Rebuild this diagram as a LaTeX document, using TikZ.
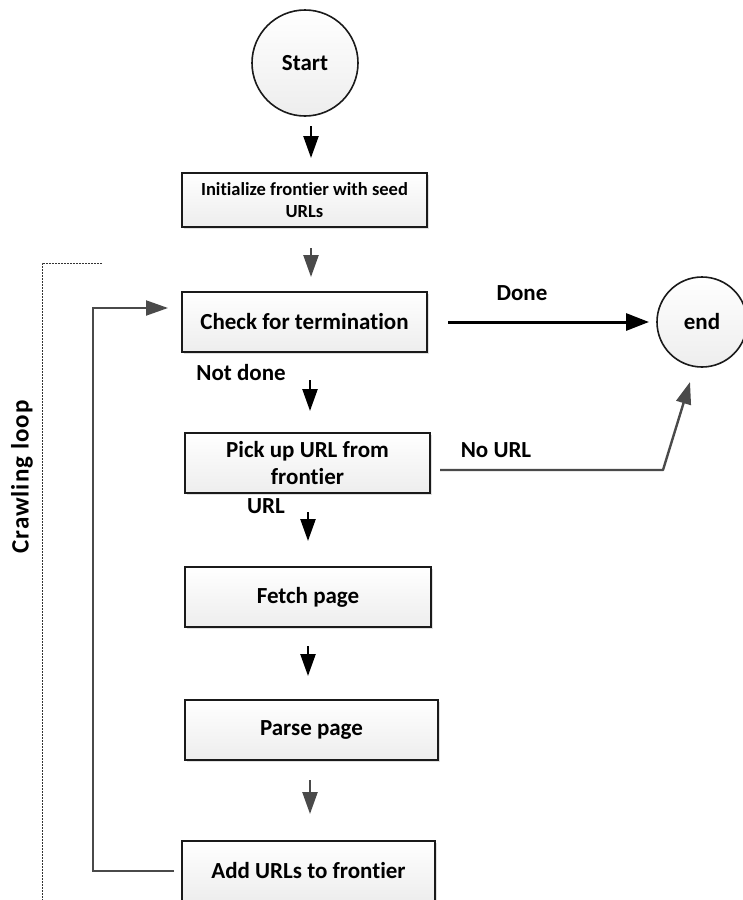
\documentclass[tikz,border=0pt]{standalone}
\usepackage{fontspec}
\setmainfont{Carlito}[Ligatures=NoCommon]
\usetikzlibrary{arrows.meta,shadows,shapes.geometric}
\definecolor{boxline}{HTML}{1A1A1A}
\definecolor{grayarrow}{HTML}{4A4A4A}
\begin{document}
\begin{tikzpicture}[x=1pt,y=-1pt,
  bigfont/.style={font=\bfseries\fontsize{23}{27.5}\selectfont},
  smallfont/.style={font=\bfseries\fontsize{18.5}{22.5}\selectfont},
  procbox/.style={draw=boxline,line width=1.8pt,rectangle,top color=white,bottom color=gray!14,
    drop shadow={shadow xshift=2pt,shadow yshift=-2pt,fill=gray!40,opacity=0.6},
    align=center,inner sep=0pt,bigfont},
  termcircle/.style={draw=boxline,line width=1.6pt,circle,top color=white,bottom color=gray!14,
    inner sep=0pt,bigfont},
  blackarrow/.style={line width=2.4pt,draw=black,-{Triangle[length=22pt,width=15pt]}},
  grayarrowst/.style={line width=2.4pt,draw=grayarrow,-{Triangle[length=22pt,width=15pt]}},
  lbl/.style={bigfont,inner sep=0pt}]
\useasboundingbox (0,0) rectangle (743,900);
\clip (0,0) rectangle (743,900);

% nodes
\node[termcircle,minimum size=106pt] (start) at (305,63) {Start};
\node[procbox,smallfont,minimum width=245pt,minimum height=54pt] (init) at (304.5,200) {Initialize frontier with seed\\URLs};
\node[procbox,minimum width=245pt,minimum height=60pt] (check) at (304.5,322) {Check for termination};
\node[procbox,minimum width=245pt,minimum height=60pt] (pick) at (307.5,463) {Pick up URL from\\frontier};
\node[procbox,minimum width=246pt,minimum height=60pt] (fetch) at (308,597) {Fetch page};
\node[procbox,minimum width=253pt,minimum height=60pt] (parse) at (311.5,730) {Parse page};
\node[procbox,minimum width=253pt,minimum height=60pt] (add) at (308.5,871) {Add URLs to frontier};
\node[termcircle,minimum size=90pt] (end) at (702,322) {end};

% labels
\node[lbl] (ldone) at (522,293) {Done};
\node[lbl] (lnotdone) at (241,373) {Not done};
\node[lbl] (lnourl) at (496,450) {No URL};
\node[lbl] (lurl) at (266,506) {URL};
\node[lbl,rotate=90,font=\bfseries\fontsize{25}{30}\selectfont] (lloop) at (22,477) {\addfontfeatures{LetterSpace=4}Crawling loop};

% arrow coordinates
\coordinate (a1s) at (311,126); \coordinate (a1e) at (311,158);
\coordinate (a2s) at (311,248); \coordinate (a2e) at (311,277);
\coordinate (a3s) at (310,380); \coordinate (a3e) at (310,411);
\coordinate (a4s) at (308,512); \coordinate (a4e) at (308,541);
\coordinate (a5s) at (308,646); \coordinate (a5e) at (308,676);
\coordinate (a6s) at (310,780); \coordinate (a6e) at (310,814);
\coordinate (dones) at (448,322); \coordinate (donee) at (649,322);
\coordinate (nus) at (440,470); \coordinate (nuk) at (663,470); \coordinate (nue) at (690,382);
\coordinate (lp1) at (93,871); \coordinate (lp2) at (93,308); \coordinate (lpe) at (168,308);
\coordinate (dt1) at (102,263); \coordinate (dt2) at (42,263); \coordinate (dt3) at (42,905);

\draw[blackarrow] (a1s) -- (a1e);
\draw[grayarrowst] (a2s) -- (a2e);
\draw[blackarrow] (a3s) -- (a3e);
\draw[blackarrow] (a4s) -- (a4e);
\draw[blackarrow] (a5s) -- (a5e);
\draw[grayarrowst] (a6s) -- (a6e);
\draw[blackarrow,line width=3pt,-{Triangle[length=23pt,width=17pt]}] (dones) -- (donee);
\draw[grayarrowst,line join=round] (nus) -- (nuk) -- (nue);
\draw[grayarrowst,line width=2pt] ([xshift=-7pt]add.west) -- (lp1) -- (lp2) -- (lpe);
\draw[line width=0.7pt,dash pattern=on 2pt off 1pt,draw=black!80] (dt1) -- (dt2) -- (dt3);
\end{tikzpicture}
\end{document}
